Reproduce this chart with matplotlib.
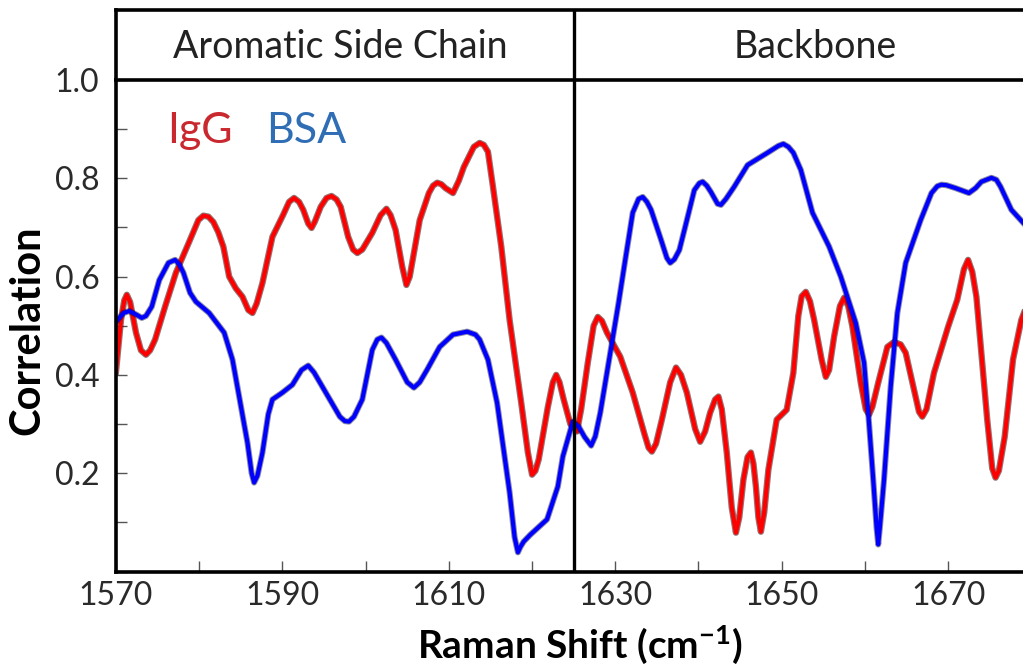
import matplotlib
matplotlib.use("Agg")
import matplotlib.pyplot as plt
import matplotlib.patheffects as pe
from matplotlib.ticker import MultipleLocator

plt.rcParams['font.family'] = ['Lato', 'DejaVu Sans']
plt.rcParams['mathtext.default'] = 'regular'

# correlation vs Raman shift, IgG (red) and BSA (blue)
igg_x = [1570.0, 1570.6, 1571.0, 1571.3, 1571.7, 1572.4, 1573.0, 1573.6, 1574.1, 1574.7,
         1575.9, 1577.2, 1578.9, 1579.9, 1580.5, 1581.1, 1581.7, 1582.3, 1582.9, 1583.6,
         1584.4, 1585.2, 1585.9, 1586.4, 1586.9, 1587.6, 1588.8, 1590.1, 1590.8, 1591.4,
         1592.0, 1592.5, 1593.1, 1593.5, 1593.9, 1594.6, 1595.3, 1595.9, 1596.5, 1597.0,
         1597.9, 1598.5, 1599.0, 1599.6, 1600.8, 1601.8, 1602.5, 1603.0, 1603.6, 1604.4,
         1604.9, 1605.3, 1605.8, 1606.5, 1607.6, 1608.1, 1608.6, 1609.1, 1609.6, 1610.5,
         1611.2, 1611.8, 1613.0, 1613.7, 1614.2, 1614.7, 1615.3, 1616.3, 1617.3, 1618.7,
         1619.5, 1620.0, 1620.4, 1620.8, 1621.9, 1622.5, 1622.9, 1623.3, 1623.8, 1624.6,
         1625.4, 1625.9, 1626.7, 1627.4, 1627.9, 1628.4, 1629.0, 1630.6, 1632.1, 1633.5,
         1634.0, 1634.4, 1634.9, 1635.6, 1636.6, 1637.3, 1637.9, 1638.6, 1639.6, 1640.2,
         1640.8, 1641.4, 1642.0, 1642.4, 1642.8, 1643.4, 1644.0, 1644.5, 1644.9, 1645.4,
         1645.9, 1646.3, 1646.6, 1646.9, 1647.2, 1647.5, 1647.9, 1648.4, 1649.4, 1650.6,
         1651.4, 1652.0, 1652.4, 1652.9, 1653.4, 1653.9, 1654.8, 1655.3, 1655.7, 1656.3,
         1657.0, 1657.5, 1658.0, 1658.5, 1659.5, 1660.1, 1660.5, 1660.9, 1661.6, 1662.7,
         1663.5, 1664.3, 1664.9, 1665.9, 1666.5, 1666.9, 1667.4, 1668.3, 1670.0, 1671.1,
         1671.9, 1672.4, 1672.9, 1673.4, 1674.7, 1675.3, 1675.7, 1676.1, 1676.8, 1677.8,
         1678.8, 1679.5]
igg_y = [0.407, 0.512, 0.552, 0.563, 0.548, 0.486, 0.450, 0.441, 0.450, 0.472,
         0.539, 0.608, 0.675, 0.715, 0.724, 0.722, 0.711, 0.690, 0.661, 0.600,
         0.576, 0.559, 0.532, 0.526, 0.545, 0.587, 0.681, 0.726, 0.752, 0.760,
         0.752, 0.736, 0.708, 0.699, 0.712, 0.742, 0.760, 0.764, 0.757, 0.742,
         0.681, 0.655, 0.648, 0.655, 0.689, 0.725, 0.738, 0.725, 0.695, 0.620,
         0.583, 0.600, 0.648, 0.715, 0.770, 0.785, 0.791, 0.788, 0.780, 0.770,
         0.795, 0.823, 0.864, 0.872, 0.868, 0.854, 0.783, 0.661, 0.512, 0.343,
         0.242, 0.197, 0.205, 0.228, 0.335, 0.385, 0.400, 0.385, 0.350, 0.300,
         0.285, 0.330, 0.425, 0.500, 0.518, 0.510, 0.486, 0.437, 0.364, 0.280,
         0.252, 0.244, 0.260, 0.309, 0.385, 0.415, 0.400, 0.364, 0.290, 0.264,
         0.285, 0.323, 0.350, 0.356, 0.330, 0.242, 0.130, 0.079, 0.110, 0.187,
         0.233, 0.242, 0.220, 0.173, 0.110, 0.081, 0.120, 0.207, 0.309, 0.329,
         0.404, 0.520, 0.560, 0.569, 0.550, 0.512, 0.431, 0.396, 0.410, 0.478,
         0.540, 0.557, 0.540, 0.498, 0.384, 0.330, 0.319, 0.335, 0.384, 0.457,
         0.467, 0.462, 0.445, 0.370, 0.325, 0.315, 0.330, 0.404, 0.498, 0.553,
         0.615, 0.634, 0.610, 0.559, 0.309, 0.210, 0.191, 0.205, 0.274, 0.431,
         0.512, 0.543]

bsa_x = [1570.0, 1570.9, 1571.6, 1572.5, 1573.1, 1573.6, 1574.3, 1575.2, 1576.3, 1577.1,
         1577.6, 1578.1, 1578.9, 1579.6, 1581.2, 1583.0, 1584.0, 1584.8, 1585.8, 1586.3,
         1586.6, 1587.0, 1587.6, 1588.3, 1588.8, 1590.0, 1591.2, 1592.3, 1593.1, 1593.8,
         1594.8, 1596.9, 1597.5, 1598.0, 1598.6, 1599.6, 1600.8, 1601.4, 1601.9, 1602.5,
         1603.6, 1605.0, 1605.8, 1606.5, 1607.4, 1608.9, 1610.5, 1612.2, 1613.2, 1613.7,
         1614.7, 1615.8, 1617.3, 1617.9, 1618.3, 1618.6, 1619.0, 1619.8, 1621.8, 1623.1,
         1623.7, 1624.9, 1625.6, 1626.3, 1627.1, 1627.6, 1628.2, 1629.4, 1630.4, 1631.2,
         1632.1, 1632.8, 1633.3, 1633.8, 1634.3, 1635.5, 1636.2, 1636.6, 1637.1, 1637.7,
         1638.4, 1639.5, 1640.1, 1640.5, 1641.0, 1641.5, 1642.3, 1642.7, 1643.3, 1644.3,
         1645.9, 1648.3, 1649.6, 1650.2, 1650.8, 1651.4, 1652.3, 1653.7, 1655.7, 1657.1,
         1658.9, 1659.9, 1660.4, 1661.0, 1661.4, 1661.6, 1661.8, 1662.3, 1663.1, 1663.9,
         1664.9, 1666.7, 1668.0, 1668.7, 1669.2, 1669.8, 1670.9, 1672.5, 1673.3, 1674.0,
         1675.2, 1675.8, 1676.3, 1677.6, 1679.0]
bsa_y = [0.508, 0.526, 0.530, 0.522, 0.516, 0.520, 0.539, 0.593, 0.628, 0.634,
         0.625, 0.608, 0.567, 0.549, 0.526, 0.486, 0.431, 0.356, 0.262, 0.200,
         0.181, 0.195, 0.242, 0.320, 0.350, 0.364, 0.380, 0.410, 0.419, 0.405,
         0.376, 0.315, 0.306, 0.305, 0.315, 0.350, 0.451, 0.472, 0.476, 0.465,
         0.431, 0.385, 0.374, 0.385, 0.411, 0.457, 0.482, 0.488, 0.482, 0.472,
         0.431, 0.343, 0.161, 0.070, 0.039, 0.050, 0.061, 0.075, 0.106, 0.173,
         0.234, 0.305, 0.295, 0.274, 0.256, 0.275, 0.323, 0.445, 0.547, 0.634,
         0.730, 0.758, 0.762, 0.752, 0.736, 0.675, 0.638, 0.628, 0.635, 0.654,
         0.701, 0.776, 0.790, 0.793, 0.785, 0.772, 0.748, 0.746, 0.758, 0.783,
         0.827, 0.852, 0.866, 0.870, 0.864, 0.852, 0.817, 0.730, 0.661, 0.600,
         0.506, 0.425, 0.323, 0.187, 0.090, 0.055, 0.090, 0.187, 0.376, 0.526,
         0.628, 0.715, 0.770, 0.784, 0.787, 0.786, 0.780, 0.770, 0.780, 0.793,
         0.801, 0.797, 0.783, 0.736, 0.710]

regions = ['Aromatic Side Chain', 'Backbone']
region_centers = [1597.0, 1654.0]
split = 1625.0
xmin, xmax = 1570, 1679

W, H = 1023, 665
fig = plt.figure(figsize=(W / 100, H / 100), dpi=100)

# main plot area, the header band sits on top of it
ax = fig.add_axes([116 / W, 1 - 571.5 / H, (W - 116) / W, (571.5 - 80) / H])
hdr = fig.add_axes([116 / W, 1 - 80 / H, (W - 116) / W, 70 / H])

lw = 3.0
ax.plot(igg_x, igg_y, color='#ff0000', lw=lw, solid_joinstyle='round',
        path_effects=[pe.Stroke(linewidth=lw + 1.6, foreground='#3a0000', alpha=0.55), pe.Normal()])
ax.plot(bsa_x, bsa_y, color='#0000ff', lw=lw, solid_joinstyle='round',
        path_effects=[pe.Stroke(linewidth=lw + 1.4, foreground='#00003a', alpha=0.45), pe.Normal()])

ax.axvline(split, color='black', lw=2.4)
hdr.axvline(split, color='black', lw=2.4)

ax.set_xlim(xmin, xmax)
ax.set_ylim(0, 1.0)
ax.set_xticks(range(1570, 1680, 20))
ax.set_xticks(range(1570, 1680, 10), minor=True)
ax.yaxis.set_major_locator(MultipleLocator(0.2))
ax.yaxis.set_minor_locator(MultipleLocator(0.1))
ax.yaxis.set_major_formatter(lambda v, p: '' if v < 0.1 else f'{v:.1f}')
ax.tick_params(which='both', direction='in', length=8, width=1, color='#555555',
               labelsize=23, labelcolor='#2a2a2a', pad=7)
ax.tick_params(axis='y', which='both', pad=12)

for s in ['left', 'bottom']:
    ax.spines[s].set_linewidth(2.6)
ax.spines['right'].set_visible(False)
ax.spines['top'].set_visible(False)

hdr.set_xlim(xmin, xmax)
hdr.set_ylim(0, 1)
hdr.set_xticks([])
hdr.set_yticks([])
for s in ['left', 'bottom', 'top']:
    hdr.spines[s].set_linewidth(2.6)
hdr.spines['right'].set_visible(False)

for name, xc in zip(regions, region_centers):
    hdr.text(xc, 0.31, name, transform=hdr.get_xaxis_transform(), ha='center',
             va='baseline', fontsize=27, color='#222222')

ax.text(1576.1, 0.872, 'IgG', color='#c8282e', fontsize=31, ha='left', va='baseline')
ax.text(1588.1, 0.872, 'BSA', color='#2f6eb5', fontsize=31, ha='left', va='baseline')

fig.text(27 / W, 1 - 330 / H, 'Correlation', rotation=90, ha='center', va='center',
         fontsize=30, fontweight='bold')
fig.text(580 / W, 1 - 645 / H, 'Raman Shift (cm$^{-1}$)', ha='center', va='center',
         fontsize=28, fontweight='bold')

fig.savefig('out.png', dpi=100)
